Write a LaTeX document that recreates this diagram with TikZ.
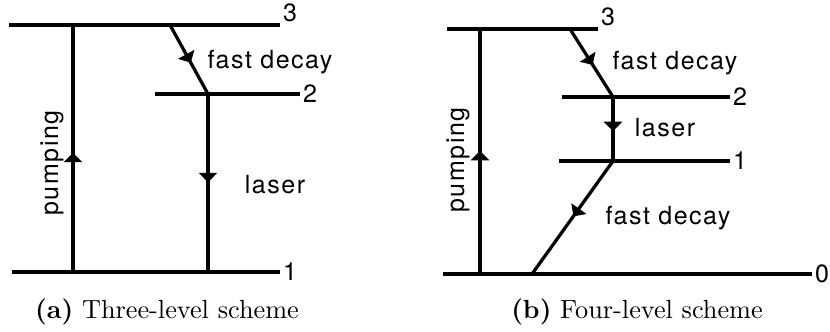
\documentclass[tikz,border=0pt]{standalone}
\usepackage{fontspec}
\newfontfamily\labelfont[LetterSpace=6]{TeX Gyre Heros}
\usetikzlibrary{shapes.geometric}

\tikzset{
    level/.style={line width=1.3pt},
    trans/.style={line width=1.3pt},
    head/.style={isosceles triangle, isosceles triangle stretches, fill=black,
        draw=none, inner sep=0pt, minimum width=7.5pt, minimum height=3.8pt,
        sloped, allow upside down, anchor=apex},
    lbl/.style={font=\labelfont, inner sep=1pt},
    num/.style={font=\labelfont, inner sep=1pt},
    capt/.style={font=\fontsize{10.5}{12}\selectfont}
}

\begin{document}
\begin{tikzpicture}[x=0.4pt, y=0.4pt]
    \useasboundingbox (0,0) rectangle (830,-332);

    % Three-level scheme: levels
    \coordinate (a3w) at (9, -25);   \coordinate (a3e) at (280, -25);
    \coordinate (a2w) at (155, -94); \coordinate (a2e) at (300, -94);
    \coordinate (a1w) at (12, -272); \coordinate (a1e) at (280, -272);
    \draw[level] (a3w) -- (a3e);
    \draw[level] (a2w) -- (a2e);
    \draw[level] (a1w) -- (a1e);
    \node[num, anchor=south west] (na3) at (a3e) {3};
    \node[num, anchor=west] (na2) at (a2e) {2};
    \node[num, anchor=west] (na1) at (a1e) {1};

    % Three-level scheme: transitions
    \coordinate (apb) at (73, -272); \coordinate (apt) at (73, -25);
    \coordinate (afd) at (170, -25); \coordinate (ax2) at (208, -94);
    \coordinate (ax1) at (208, -272);
    \draw[trans] (apb) -- node[head, pos=0.5] {} (apt);
    \draw[trans] (afd) -- node[head, pos=0.6] {} (ax2);
    \draw[trans] (ax2) -- node[head, pos=0.52] {} (ax1);
    \node[lbl, rotate=90] (apump) at (52, -163) {pumping};
    \node[lbl] (afast) at (270, -62) {fast decay};
    \node[lbl] (alaser) at (275, -185) {laser};
    \node[capt] (acap) at (167, -312) {\textbf{(a)} Three-level scheme};

    % Four-level scheme: levels
    \coordinate (b3w) at (447, -29);  \coordinate (b3e) at (598, -29);
    \coordinate (b2w) at (562, -97);  \coordinate (b2e) at (730, -97);
    \coordinate (b1w) at (559, -161); \coordinate (b1e) at (730, -161);
    \coordinate (b0w) at (443, -274); \coordinate (b0e) at (812, -274);
    \draw[level] (b3w) -- (b3e);
    \draw[level] (b2w) -- (b2e);
    \draw[level] (b1w) -- (b1e);
    \draw[level] (b0w) -- (b0e);
    \node[num, anchor=south west] (nb3) at (b3e) {3};
    \node[num, anchor=west] (nb2) at (b2e) {2};
    \node[num, anchor=west] (nb1) at (b1e) {1};
    \node[num, anchor=west] (nb0) at (b0e) {0};

    % Four-level scheme: transitions
    \coordinate (bpb) at (480, -274); \coordinate (bpt) at (480, -29);
    \coordinate (bfd) at (570, -29);  \coordinate (bx2) at (613, -97);
    \coordinate (bx1) at (613, -161); \coordinate (bx0) at (532, -274);
    \draw[trans] (bpb) -- node[head, pos=0.52] {} (bpt);
    \draw[trans] (bfd) -- node[head, pos=0.58] {} (bx2);
    \draw[trans] (bx2) -- node[head, pos=0.6] {} (bx1);
    \draw[trans] (bx1) -- node[head, pos=0.52] {} (bx0);
    \node[lbl, rotate=90] (bpump) at (458, -160) {pumping};
    \node[lbl] (bfast) at (675, -63) {fast decay};
    \node[lbl] (blaser) at (665, -128) {laser};
    \node[lbl] (bfast0) at (668, -218) {fast decay};
    \node[capt] (bcap) at (637, -312) {\textbf{(b)} Four-level scheme};
\end{tikzpicture}
\end{document}
